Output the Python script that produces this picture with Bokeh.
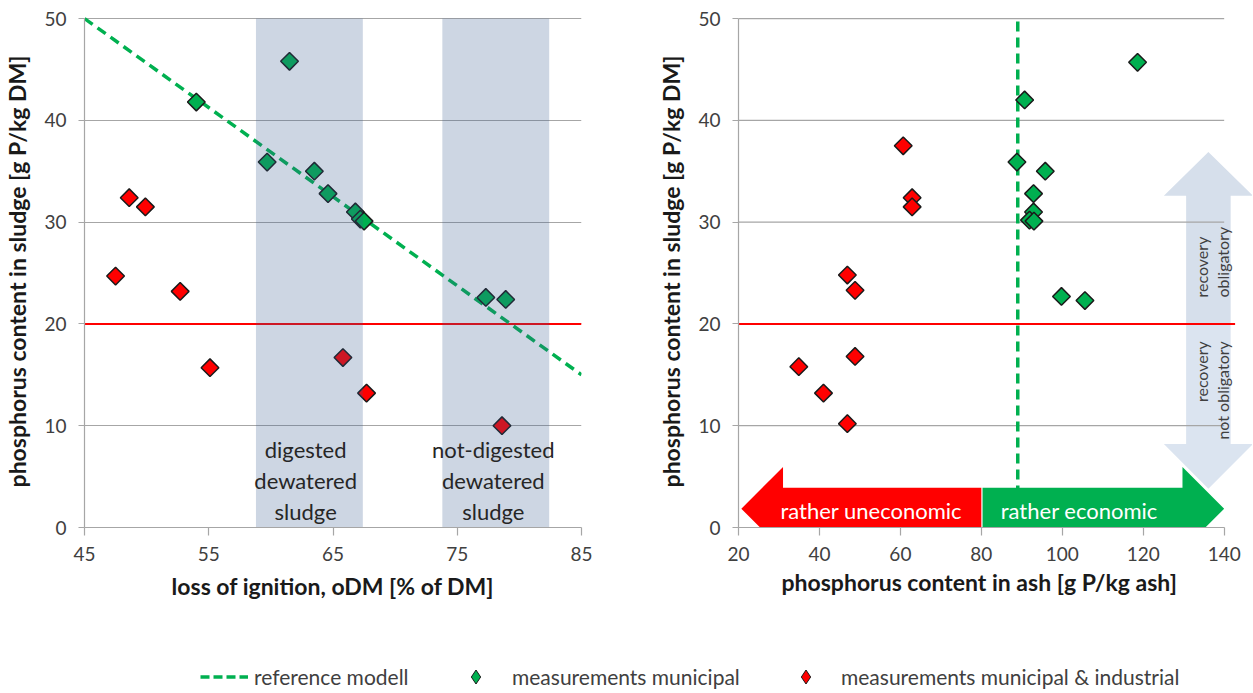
import math
from bokeh.plotting import figure
from bokeh.models import Range1d, FixedTicker, Title, Legend, LegendItem
from bokeh.layouts import column, row
from bokeh.embed import file_html
from bokeh.resources import INLINE
from bokeh.core.properties import value

FONT = "Lato"
GREEN = "#00b050"
RED = "#ff0000"

# ---------------- data ----------------
# left panel: loss of ignition (oDM) vs P content in sludge
odm_municipal = [61.5, 54.0, 59.7, 63.5, 64.6, 66.8, 67.2, 67.5, 77.3, 78.9]
p_sludge_municipal = [45.8, 41.8, 35.9, 35.0, 32.8, 31.0, 30.3, 30.1, 22.6, 22.4]
odm_industrial = [47.5, 48.6, 49.9, 52.7, 55.1, 65.8, 67.7, 78.6]
p_sludge_industrial_l = [24.7, 32.4, 31.5, 23.2, 15.7, 16.7, 13.2, 10.0]

# reference model line
model_odm = [45, 85]
model_p = [50, 15]

# sludge type bands
band_start = [58.8, 73.8]
band_end = [67.4, 82.4]
band_labels = ["digested\ndewatered\nsludge", "not-digested\ndewatered\nsludge"]

# right panel: P content in ash vs P content in sludge
ash_municipal = [118.6, 90.7, 88.8, 95.8, 92.9, 92.9, 91.9, 93.0, 99.8, 105.6]
p_sludge_municipal_r = [45.7, 42.0, 35.9, 35.0, 32.8, 31.0, 30.2, 30.1, 22.7, 22.3]
ash_industrial = [60.7, 62.9, 62.9, 46.9, 48.8, 48.8, 34.9, 41.0, 46.9]
p_sludge_industrial_r = [37.5, 32.4, 31.5, 24.8, 23.3, 16.8, 15.8, 13.2, 10.2]

p_limit = 20          # g P/kg DM, recovery obligatory above
econ_threshold = 89   # g P/kg ash
econ_split = 80       # arrow split

x1_ticks = [45, 55, 65, 75, 85]
x2_ticks = [20, 40, 60, 80, 100, 120, 140]
y_ticks = [0, 10, 20, 30, 40, 50]

legend_labels = ["reference modell", "measurements municipal",
                 "measurements municipal & industrial"]


def h_arrow(x_tail, x_tip, y_mid, half_body, half_head, head_len):
    d = 1 if x_tip > x_tail else -1
    xb = x_tip - d * head_len
    xs = [x_tail, xb, xb, x_tip, xb, xb, x_tail]
    ys = [y_mid + half_body, y_mid + half_body, y_mid + half_head, y_mid,
          y_mid - half_head, y_mid - half_body, y_mid - half_body]
    return xs, ys


def v_arrow(x_mid, y_tail, y_tip, half_body, half_head, head_len):
    d = 1 if y_tip > y_tail else -1
    yb = y_tip - d * head_len
    xs = [x_mid - half_body, x_mid - half_body, x_mid - half_head, x_mid,
          x_mid + half_head, x_mid + half_body, x_mid + half_body]
    ys = [y_tail, yb, yb, y_tip, yb, yb, y_tail]
    return xs, ys


def style(p, ylab, xlab):
    p.outline_line_color = None
    p.background_fill_color = "white"
    p.border_fill_color = "white"
    for ax in p.axis:
        ax.axis_line_color = "#a6a6a6"
        ax.axis_line_width = 1.2
        ax.major_tick_line_color = "#a6a6a6"
        ax.major_tick_line_width = 1.2
        ax.minor_tick_line_color = None
        ax.major_tick_in = 0
        ax.major_label_text_font = FONT
        ax.major_label_text_font_size = "19px"
        ax.major_label_text_color = "#404040"
        ax.axis_label_text_font = FONT
        ax.axis_label_text_font_style = "bold"
        ax.axis_label_text_color = "#1a1a1a"
    p.xaxis.major_tick_out = 8
    p.xaxis.major_label_standoff = 11
    p.xaxis.axis_label_standoff = 8
    p.xaxis.axis_label_text_font_size = "23px"
    p.yaxis.major_tick_out = 6
    p.yaxis.major_label_standoff = 12
    p.yaxis.axis_label_standoff = 10
    p.yaxis.axis_label_text_font_size = "23px"
    p.yaxis.ticker = FixedTicker(ticks=y_ticks)
    p.yaxis.bounds = (0, 50)
    p.yaxis.axis_label = ylab
    if xlab:
        p.xaxis.axis_label = xlab


# ---------------- left panel ----------------
p1 = figure(width=610, height=605, x_range=Range1d(45, 85), y_range=Range1d(0, 50.3),
            output_backend="svg", toolbar_location=None,
            min_border_left=84, min_border_right=29, min_border_top=15, min_border_bottom=78)
style(p1, "phosphorus content in sludge [g P/kg DM]", "loss of ignition, oDM [% of DM]")
p1.xaxis.ticker = FixedTicker(ticks=x1_ticks)
p1.xgrid.visible = False
p1.ygrid.ticker = FixedTicker(ticks=y_ticks)
p1.ygrid.grid_line_color = "#a6a6a6"
p1.ygrid.grid_line_width = 1.2

p1.segment(x0=44.2, x1=85, y0=p_limit, y1=p_limit, line_color=RED, line_width=2)
p1.line(model_odm, model_p, line_color=GREEN, line_width=3.5, line_dash="10 6")
p1.scatter(odm_municipal, p_sludge_municipal, marker="square", angle=math.pi / 4, size=12.5,
           fill_color=GREEN, line_color="#1a1a1a", line_width=1.5)
p1.scatter(odm_industrial, p_sludge_industrial_l, marker="square", angle=math.pi / 4, size=12.5,
           fill_color=RED, line_color="#1a1a1a", line_width=1.5)
p1.quad(left=band_start, right=band_end, bottom=0, top=50,
        fill_color="#375b8f", fill_alpha=0.25, line_color=None)
p1.text(x=[62.8, 77.9], y=[4.6, 4.6], text=band_labels, text_align="center",
        text_baseline="middle", text_font=value(FONT), text_font_size=value("22px"),
        text_color="#262626", text_line_height=1.15)

# ---------------- right panel ----------------
p2 = figure(width=642, height=605, x_range=Range1d(20, 147), y_range=Range1d(0, 50.3),
            output_backend="svg", toolbar_location=None,
            min_border_left=128, min_border_right=0, min_border_top=15, min_border_bottom=78)
style(p2, "phosphorus content in sludge [g P/kg DM]", None)
p2.xaxis.ticker = FixedTicker(ticks=x2_ticks)
p2.xaxis.bounds = (20, 140)
p2.xgrid.visible = False
p2.ygrid.visible = False

# recovery arrows (background)
ux, uy = v_arrow(136.1, p_limit + 0.1, 36.9, 5.5, 11, 4.3)
dx, dy = v_arrow(136.1, p_limit - 0.1, 3.8, 5.5, 11, 4.4)
p2.patch(ux, uy, fill_color="#d6dfeb", line_color=None)
p2.patch(dx, dy, fill_color="#dbe4f0", line_color=None)

# grid lines limited to the axis extent
grid_y = [t for t in y_ticks if t > 0]
p2.segment(x0=20, x1=140, y0=grid_y, y1=grid_y, line_color="#a6a6a6", line_width=1.2)
p2.segment(x0=17.8, x1=142.7, y0=p_limit, y1=p_limit, line_color=RED, line_width=2)
p2.segment(x0=econ_threshold, x1=econ_threshold, y0=0, y1=50, line_color=GREEN,
           line_width=3.5, line_dash="10 6")

p2.scatter(ash_municipal, p_sludge_municipal_r, marker="square", angle=math.pi / 4, size=12.5,
           fill_color=GREEN, line_color="#1a1a1a", line_width=1.5)
p2.scatter(ash_industrial, p_sludge_industrial_r, marker="square", angle=math.pi / 4, size=12.5,
           fill_color=RED, line_color="#1a1a1a", line_width=1.5)

rx, ry = h_arrow(econ_split, 20.7, 1.85, 2.05, 4.1, 10.3)
gx, gy = h_arrow(econ_split + 0.3, 140, 1.85, 2.05, 4.1, 10.3)
p2.patch(rx, ry, fill_color=RED, line_color=None)
p2.patch(gx, gy, fill_color=GREEN, line_color=None)
p2.text(x=[52.8, 104.2], y=[1.7, 1.7], text=["rather uneconomic", "rather economic"],
        text_align="center", text_baseline="middle", text_font=value(FONT),
        text_font_size=value("22px"), text_color="white")

p2.text(x=[137.0], y=[22.6], text=["recovery\nobligatory"], angle=math.pi / 2,
        text_align="left", text_baseline="middle", text_font=value(FONT),
        text_font_size=value("16px"), text_color="#404040", text_line_height=1.15)
p2.text(x=[137.0], y=[18.3], text=["recovery\nnot obligatory"], angle=math.pi / 2,
        text_align="right", text_baseline="middle", text_font=value(FONT),
        text_font_size=value("16px"), text_color="#404040", text_line_height=1.15)

p2.add_layout(Title(text="phosphorus content in ash [g P/kg ash]", align="left",
                    offset=43, text_font=FONT, text_font_style="bold",
                    text_font_size="23px", text_color="#1a1a1a", standoff=4), "below")

# ---------------- legend ----------------
pl = figure(width=1252, height=86, x_range=Range1d(0, 1), y_range=Range1d(0, 1),
            output_backend="svg", toolbar_location=None, min_border=0,
            x_axis_location=None, y_axis_location=None)
pl.grid.visible = False
pl.outline_line_color = None
# legend proxies: real data, kept outside this strip's visible ranges
r_line = pl.line(model_odm, model_p, line_color=GREEN, line_width=3.5, line_dash="9 4")
r_green = pl.scatter(odm_municipal, p_sludge_municipal, marker="diamond", fill_color=GREEN,
                     line_color="#1a1a1a", line_width=1)
r_red = pl.scatter(odm_industrial, p_sludge_industrial_l, marker="diamond", fill_color=RED,
                   line_color="#1a1a1a", line_width=1)

for r, lab, lx, gw, so in [(r_line, legend_labels[0], 200, 48, 6),
                           (r_green, legend_labels[1], 458, 35, 19),
                           (r_red, legend_labels[2], 788, 35, 18)]:
    leg = Legend(items=[LegendItem(label=lab, renderers=[r])], location=(lx, -3),
                 orientation="horizontal", glyph_width=gw, glyph_height=35,
                 label_standoff=so, padding=0, margin=0, border_line_color=None,
                 background_fill_alpha=0, label_text_font=FONT,
                 label_text_font_size="21px", label_text_color="#404040")
    pl.add_layout(leg)

layout = column(row(p1, p2), pl)
open("out.html", "w").write(file_html(layout, INLINE))
